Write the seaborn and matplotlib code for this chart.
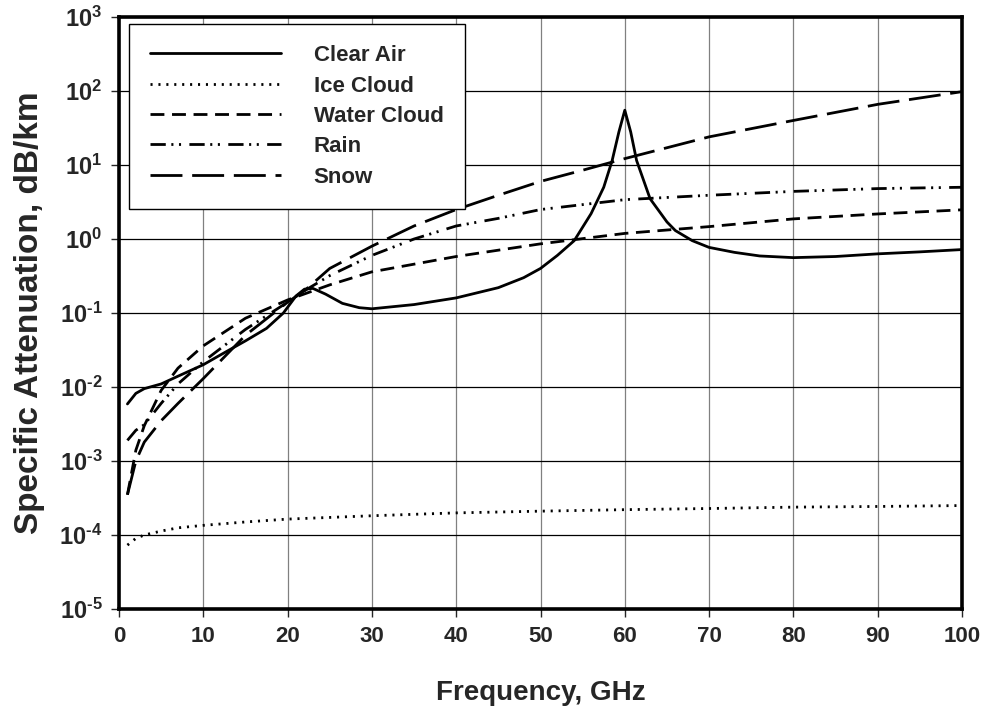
import numpy as np
import pandas as pd
import seaborn as sns
import matplotlib.pyplot as plt

# values (GHz, dB/km)
freq_clear = [1, 2, 3, 5, 7, 10, 12, 15, 17.5, 19.5, 21, 22, 23, 24.5, 26.5, 28.5, 30,
              35, 40, 45, 48, 50, 52, 54, 56, 57.5, 58.5, 59.3, 60, 60.7, 61.4, 63,
              65, 66, 68, 70, 73, 76, 80, 85, 90, 95, 100]
clear_air = [0.0059, 0.0082, 0.0095, 0.011, 0.014, 0.020, 0.027, 0.042, 0.062, 0.10,
             0.17, 0.21, 0.215, 0.18, 0.135, 0.118, 0.114,
             0.13, 0.16, 0.22, 0.30, 0.40, 0.60, 0.95, 2.2, 5.0, 11.5, 28, 55, 28, 11.5, 3.5,
             1.7, 1.3, 0.95, 0.77, 0.66, 0.59, 0.56, 0.58, 0.63, 0.67, 0.72]

freq_ice = [1, 2, 3, 5, 7, 10, 15, 20, 30, 40, 50, 60, 70, 80, 90, 100]
ice_cloud = [7.3e-5, 9.0e-5, 1.0e-4, 1.13e-4, 1.25e-4, 1.35e-4, 1.5e-4, 1.64e-4, 1.82e-4,
             1.99e-4, 2.1e-4, 2.2e-4, 2.28e-4, 2.38e-4, 2.43e-4, 2.5e-4]

freq_water = [1, 2, 3, 5, 7, 10, 15, 20, 25, 30, 40, 50, 60, 70, 80, 90, 100]
water_cloud = [3.5e-4, 1.4e-3, 3.0e-3, 0.009, 0.018, 0.036, 0.085, 0.15, 0.24, 0.36,
               0.58, 0.86, 1.19, 1.47, 1.87, 2.18, 2.48]

freq_rain = [1, 2, 3, 5, 7, 10, 15, 20, 22, 25, 30, 35, 40, 45, 50, 60, 70, 80, 90, 100]
rain = [1.9e-3, 2.6e-3, 3.1e-3, 0.006, 0.011, 0.022, 0.06, 0.14, 0.2, 0.32, 0.6, 1.0,
        1.5, 1.9, 2.5, 3.4, 3.9, 4.4, 4.8, 5.0]

freq_snow = [1, 2, 3, 5, 7, 10, 15, 20, 22, 25, 30, 35, 40, 45, 50, 55, 60, 70, 80, 90, 100]
snow = [3.5e-4, 1.0e-3, 1.8e-3, 0.0035, 0.006, 0.013, 0.05, 0.14, 0.2, 0.4, 0.8, 1.5,
        2.5, 3.9, 6.0, 8.5, 12.2, 24, 40, 66, 98]

series = [
    ("Clear Air", freq_clear, clear_air, "-", 2.0),
    ("Ice Cloud", freq_ice, ice_cloud, (0, (1.5, 4.2)), 2.0),
    ("Water Cloud", freq_water, water_cloud, (0, (10, 5.5)), 2.0),
    ("Rain", freq_rain, rain, (0, (11, 4, 1.5, 4, 1.5, 6)), 2.0),
    ("Snow", freq_snow, snow, (0, (23, 7)), 2.0),
]

sns.set_style("white")
plt.rcParams["font.family"] = ["Liberation Sans", "DejaVu Sans"]
plt.rcParams["font.weight"] = "bold"
plt.rcParams["mathtext.fontset"] = "custom"
plt.rcParams["mathtext.rm"] = "Liberation Sans:bold"
plt.rcParams["mathtext.it"] = "Liberation Sans:bold"
plt.rcParams["mathtext.bf"] = "Liberation Sans:bold"
plt.rcParams["lines.scale_dashes"] = False

fig = plt.figure(figsize=(9.84, 7.09), dpi=100)
ax = fig.add_axes([119 / 984, 1 - 609 / 709, 843 / 984, 592 / 709])

for name, f, v, ls, lw in series:
    sns.lineplot(x=f, y=v, ax=ax, color="black", linestyle=ls, linewidth=lw,
                 label=name, estimator=None, sort=False)

ax.set_yscale("log")
ax.set_xlim(0, 100)
ax.set_ylim(1e-5, 1e3)
ax.set_xticks(range(0, 101, 10))
exps = list(range(-5, 4))
ax.set_yticks([10.0 ** e for e in exps])
ax.set_yticklabels([r"$10^{\text{%d}}$" % e for e in exps])
ax.minorticks_off()
ax.tick_params(axis="both", length=6, width=1, direction="out",
               left=True, bottom=True, pad=6)
ax.tick_params(axis="x", labelsize=16)
ax.tick_params(axis="y", labelsize=17)
for lab in ax.get_xticklabels():
    lab.set_fontweight("bold")

ax.yaxis.grid(True, color="black", linewidth=0.9)
ax.xaxis.grid(True, color="#808080", linewidth=0.9)
for sp in ax.spines.values():
    sp.set_linewidth(2.6)
    sp.set_color("black")

ax.set_xlabel("Frequency, GHz", fontsize=20, fontweight="bold", labelpad=24)
ax.set_ylabel("Specific Attenuation, dB/km", fontsize=24, fontweight="bold", labelpad=10)

leg = ax.legend(loc="upper left", bbox_to_anchor=(0.012, 0.988), fontsize=16,
                frameon=True, fancybox=False, edgecolor="black", framealpha=1,
                handlelength=5.9, handletextpad=1.45, labelspacing=0.42,
                borderpad=0.95, borderaxespad=0)
leg.get_frame().set_linewidth(1.0)
for t in leg.get_texts():
    t.set_fontweight("bold")

fig.savefig("out.png", dpi=100)
